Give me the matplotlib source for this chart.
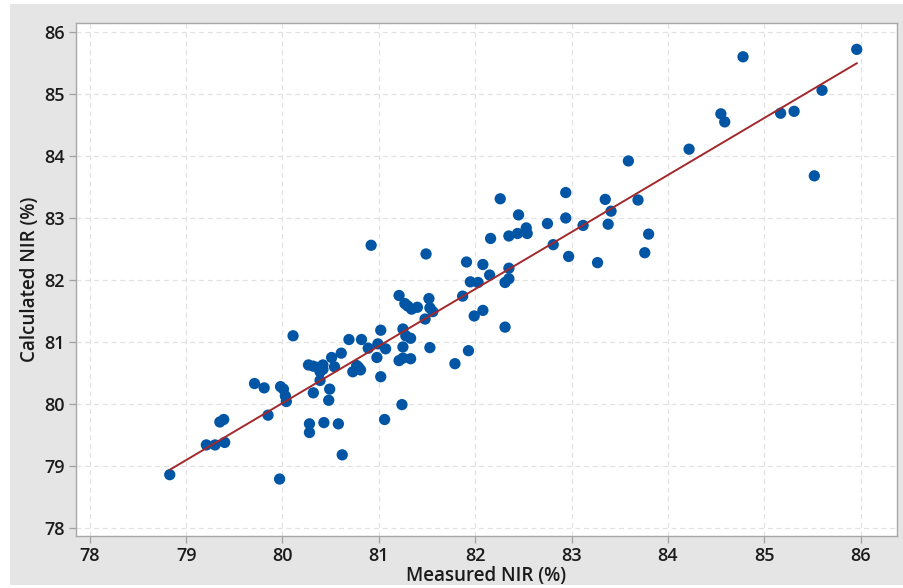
import numpy as np
import matplotlib
matplotlib.use("Agg")
import matplotlib.pyplot as plt
from matplotlib.patches import Rectangle

measured = [85.96, 84.78, 85.60, 84.55, 84.59, 85.17, 85.31, 84.22, 85.52, 83.59,
            82.94, 83.35, 83.69, 83.41, 82.94, 83.12, 83.38, 83.80, 82.97, 83.27,
            83.76, 82.26, 82.45, 82.75, 82.53, 82.54, 82.44, 82.35, 82.16, 82.81,
            81.91, 82.08, 82.35, 82.15, 81.95, 82.03, 82.35, 82.31, 81.87, 81.99,
            82.08, 82.31, 80.92, 81.49, 81.21, 81.27, 81.34, 81.40, 81.52, 81.53,
            81.56, 81.30, 81.48, 81.02, 81.25, 81.28, 81.33, 80.99, 80.82, 80.69,
            80.89, 81.07, 81.25, 81.53, 80.61, 80.51, 80.98, 81.21, 81.25, 81.33,
            81.93, 81.79, 80.77, 80.54, 80.11, 80.27, 80.32, 80.37, 80.42, 80.42,
            80.39, 80.73, 80.79, 80.81, 80.39, 81.02, 80.32, 80.49, 80.48, 81.24,
            80.28, 80.28, 80.43, 80.58, 81.06, 79.71, 79.81, 79.98, 80.01, 80.03,
            80.04, 79.85, 79.35, 79.39, 79.21, 79.30, 79.40, 78.83, 79.97, 80.62]
calculated = [85.72, 85.60, 85.06, 84.68, 84.55, 84.69, 84.72, 84.11, 83.68, 83.92,
              83.41, 83.30, 83.29, 83.11, 83.00, 82.88, 82.90, 82.74, 82.38, 82.28,
              82.44, 83.31, 83.05, 82.91, 82.84, 82.75, 82.75, 82.71, 82.67, 82.57,
              82.29, 82.25, 82.19, 82.08, 81.97, 81.96, 82.02, 81.96, 81.74, 81.42,
              81.51, 81.24, 82.56, 82.42, 81.75, 81.62, 81.53, 81.56, 81.70, 81.55,
              81.49, 81.58, 81.37, 81.19, 81.21, 81.10, 81.06, 80.97, 81.04, 81.04,
              80.90, 80.89, 80.92, 80.91, 80.82, 80.75, 80.75, 80.70, 80.74, 80.73,
              80.86, 80.65, 80.62, 80.60, 81.10, 80.63, 80.61, 80.59, 80.63, 80.56,
              80.52, 80.52, 80.59, 80.55, 80.38, 80.44, 80.18, 80.24, 80.06, 79.99,
              79.68, 79.54, 79.70, 79.68, 79.75, 80.33, 80.26, 80.28, 80.24, 80.13,
              80.04, 79.82, 79.71, 79.75, 79.34, 79.34, 79.38, 78.86, 78.79, 79.18]

x_ticks = [78, 79, 80, 81, 82, 83, 84, 85, 86]
y_ticks = [78, 79, 80, 81, 82, 83, 84, 85, 86]

plt.rcParams['font.family'] = ['Open Sans', 'DejaVu Sans']

W, H = 904, 588
fig = plt.figure(figsize=(W / 100, H / 100), dpi=100, facecolor='white')
fig.patches.append(Rectangle((10 / W, 3 / H), 1 - 10 / W, 1 - 7 / H,
                             transform=fig.transFigure, facecolor='#e5e5e5',
                             edgecolor='none', zorder=-10))

ax = fig.add_axes([76 / W, 1 - 536 / H, (897 - 76) / W, (536 - 23) / H])
ax.set_facecolor('white')

x = np.array(measured)
y = np.array(calculated)
ax.scatter(x, y, s=66, color='#0055a5', edgecolors='none', zorder=3)

coef = np.polyfit(x, y, 1)
xs = np.array([x.min(), x.max()])
ax.plot(xs, np.polyval(coef, xs), color='#a3282b', lw=1.4, zorder=4)

ax.set_xlim(77.857, 86.378)
ax.set_ylim(77.871, 86.145)
ax.set_xticks(x_ticks)
ax.set_yticks(y_ticks)
ax.grid(True, color='#e2e2e2', linestyle=(0, (4, 3)), linewidth=0.9)
ax.set_axisbelow(True)
for sp in ax.spines.values():
    sp.set_color('#a8a8a8')
    sp.set_linewidth(1.0)
ax.tick_params(axis='both', direction='out', length=5, width=0.9, color='#a0a0a0',
               labelsize=13, labelcolor='#1a1a1a', pad=3)
for lab in ax.get_xticklabels() + ax.get_yticklabels():
    lab.set_fontweight('semibold')
ax.set_xlabel('Measured NIR (%)', fontsize=13.5, fontweight='semibold',
              color='#1a1a1a', labelpad=1)
ax.set_ylabel('Calculated NIR (%)', fontsize=13.5, fontweight='semibold',
              color='#1a1a1a', labelpad=3)

fig.savefig('out.png', dpi=100, facecolor=fig.get_facecolor())
